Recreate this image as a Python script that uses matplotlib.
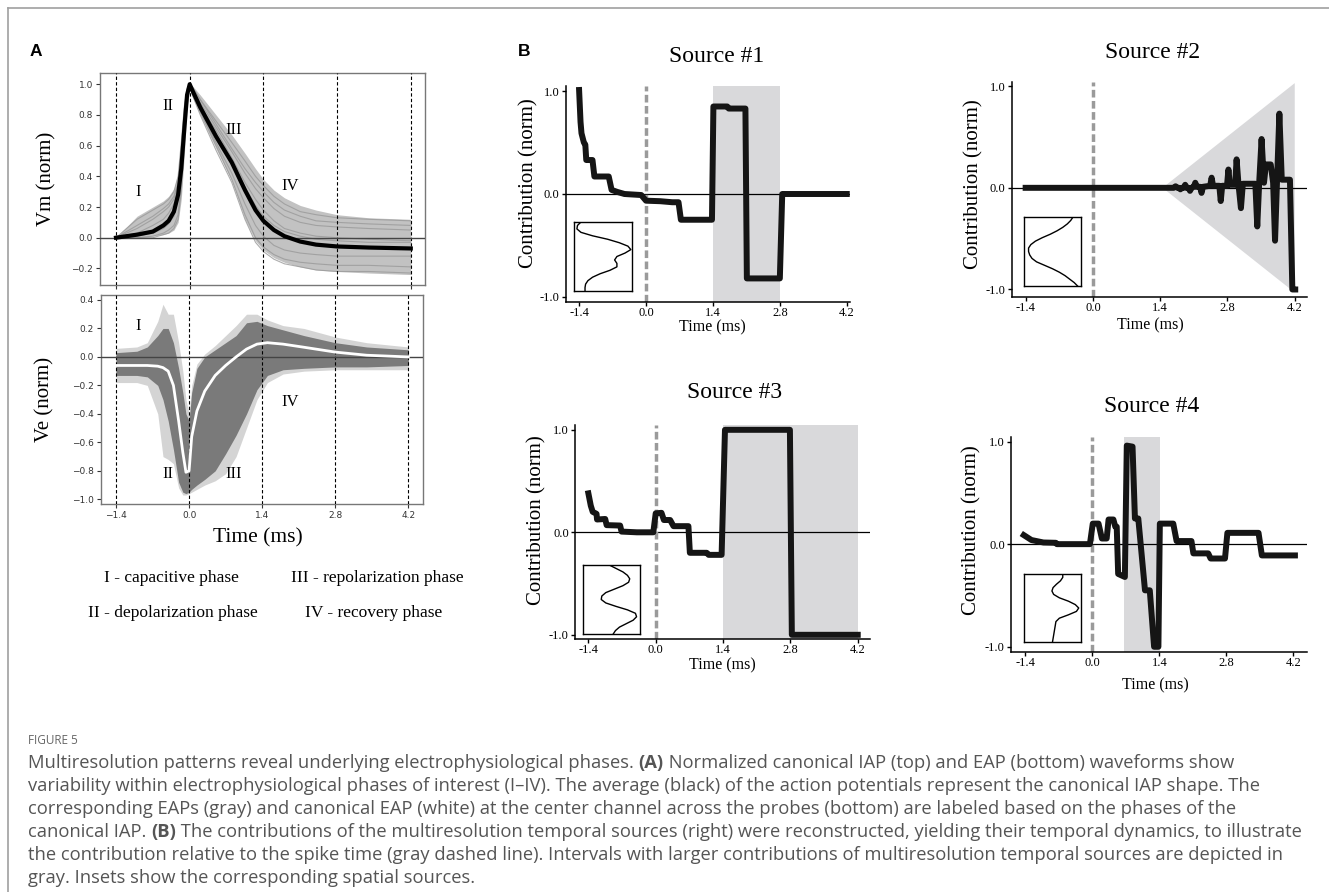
import matplotlib
matplotlib.use("Agg")
import matplotlib.pyplot as plt
from matplotlib.lines import Line2D

W, H = 1329, 892
SERIF = "Liberation Serif"
SHADE = "#d9d9db"

# ---------------- panel A data ----------------
phase_ticks = [-1.4, 0.0, 1.4, 2.8, 4.2]

iap_t = [-1.4, -1.0, -0.7, -0.5, -0.4, -0.3, -0.22, -0.16, -0.1, -0.05, 0.0, 0.05, 0.2,
         0.5, 0.8, 1.05, 1.25, 1.4, 1.6, 1.8, 2.1, 2.4, 2.8, 3.4, 4.2]
iap_mean = [0.0, 0.02, 0.04, 0.08, 0.11, 0.17, 0.28, 0.45, 0.72, 0.93, 1.0, 0.96, 0.85,
            0.66, 0.49, 0.31, 0.18, 0.11, 0.05, 0.01, -0.025, -0.045, -0.057, -0.064, -0.07]
iap_hi = [0.0, 0.14, 0.2, 0.24, 0.27, 0.32, 0.42, 0.62, 0.87, 0.98, 1.0, 0.99, 0.93,
          0.8, 0.67, 0.55, 0.45, 0.38, 0.31, 0.26, 0.21, 0.18, 0.15, 0.13, 0.12]
iap_lo = [0.0, 0.0, 0.01, 0.02, 0.03, 0.05, 0.1, 0.25, 0.55, 0.85, 0.96, 0.92, 0.8,
          0.58, 0.37, 0.12, -0.02, -0.08, -0.13, -0.16, -0.19, -0.21, -0.22, -0.23, -0.24]
iap_traces = [
    [0.0, 0.12, 0.18, 0.22, 0.25, 0.3, 0.4, 0.62, 0.86, 0.97, 1.0, 0.98, 0.9, 0.76, 0.62, 0.5, 0.4, 0.34, 0.27, 0.22, 0.17, 0.15, 0.13, 0.12, 0.11],
    [0.0, 0.06, 0.12, 0.17, 0.2, 0.25, 0.35, 0.55, 0.8, 0.95, 1.0, 0.97, 0.88, 0.72, 0.56, 0.42, 0.32, 0.26, 0.19, 0.14, 0.1, 0.08, 0.07, 0.06, 0.05],
    [0.0, 0.03, 0.08, 0.12, 0.16, 0.22, 0.32, 0.52, 0.8, 0.95, 1.0, 0.96, 0.86, 0.68, 0.5, 0.33, 0.21, 0.14, 0.08, 0.04, 0.01, -0.01, -0.02, -0.03, -0.03],
    [0.0, 0.01, 0.03, 0.06, 0.09, 0.14, 0.25, 0.45, 0.75, 0.94, 1.0, 0.95, 0.83, 0.62, 0.42, 0.22, 0.08, 0.01, -0.05, -0.08, -0.1, -0.11, -0.12, -0.12, -0.12],
    [0.0, 0.0, 0.01, 0.03, 0.05, 0.08, 0.15, 0.35, 0.68, 0.92, 1.0, 0.94, 0.82, 0.6, 0.38, 0.15, 0.0, -0.06, -0.11, -0.14, -0.16, -0.17, -0.18, -0.18, -0.19],
    [0.0, 0.0, 0.0, 0.02, 0.03, 0.06, 0.12, 0.3, 0.62, 0.9, 0.99, 0.93, 0.8, 0.57, 0.36, 0.12, -0.03, -0.09, -0.14, -0.17, -0.19, -0.21, -0.22, -0.22, -0.23],
    [0.0, 0.08, 0.14, 0.19, 0.22, 0.27, 0.36, 0.58, 0.84, 0.96, 1.0, 0.98, 0.9, 0.74, 0.58, 0.45, 0.36, 0.3, 0.23, 0.18, 0.14, 0.11, 0.1, 0.09, 0.08],
    [0.0, 0.02, 0.05, 0.09, 0.12, 0.18, 0.28, 0.48, 0.78, 0.94, 1.0, 0.96, 0.86, 0.7, 0.52, 0.36, 0.25, 0.18, 0.11, 0.06, 0.03, 0.01, 0.0, -0.01, -0.02],
]

eap_t = [-1.4, -1.0, -0.8, -0.6, -0.5, -0.4, -0.3, -0.2, -0.12, -0.06, 0.0, 0.05, 0.15,
         0.3, 0.5, 0.7, 0.9, 1.1, 1.3, 1.5, 1.8, 2.2, 2.8, 3.4, 4.2]
eap_mean = [-0.06, -0.06, -0.06, -0.065, -0.075, -0.1, -0.2, -0.45, -0.67, -0.81, -0.8, -0.56, -0.38,
            -0.24, -0.13, -0.06, 0.0, 0.055, 0.09, 0.1, 0.09, 0.068, 0.034, 0.012, 0.0]
eap_hi = [0.03, 0.04, 0.07, 0.15, 0.2, 0.2, 0.1, -0.08, -0.25, -0.4, -0.45, -0.25, -0.08,
          0.0, 0.05, 0.1, 0.15, 0.24, 0.25, 0.22, 0.19, 0.15, 0.1, 0.07, 0.05]
eap_lo = [-0.13, -0.13, -0.14, -0.2, -0.3, -0.45, -0.65, -0.88, -0.95, -0.96, -0.95, -0.93, -0.9,
          -0.86, -0.8, -0.68, -0.55, -0.4, -0.23, -0.13, -0.09, -0.08, -0.07, -0.07, -0.06]
eap_hi_outer = [0.06, 0.07, 0.1, 0.25, 0.37, 0.3, 0.3, 0.1, -0.1, -0.3, -0.4, -0.2, -0.05,
                0.02, 0.08, 0.15, 0.22, 0.3, 0.3, 0.26, 0.22, 0.2, 0.14, 0.1, 0.07]
eap_lo_outer = [-0.18, -0.18, -0.2, -0.4, -0.7, -0.72, -0.75, -0.92, -0.97, -0.97, -0.96, -0.95, -0.93,
                -0.9, -0.87, -0.82, -0.7, -0.5, -0.3, -0.18, -0.12, -0.1, -0.09, -0.09, -0.09]

phase_names = ["I", "II", "III", "IV"]

# ---------------- panel B data ----------------
s1_t = [-1.4, -1.37, -1.35, -1.3, -1.27, -1.25, -1.12, -1.08, -0.78, -0.72, -0.6, -0.45, -0.1,
        0.0, 0.3, 0.55, 0.68, 0.73, 1.38, 1.41, 1.7, 1.73, 2.08, 2.11, 2.8, 2.85, 4.2]
s1_v = [1.01, 0.7, 0.59, 0.5, 0.48, 0.33, 0.33, 0.17, 0.17, 0.04, 0.02, 0.0, -0.01,
        -0.065, -0.07, -0.08, -0.08, -0.25, -0.25, 0.85, 0.85, 0.83, 0.83, -0.82, -0.82, 0.0, 0.0]

s2_t = [-1.4, -0.8, -0.2, 0.4, 1.0, 1.5, 1.68, 1.72, 1.76, 1.79, 1.82, 1.85, 1.89, 1.92, 1.95,
        1.99, 2.02, 2.05, 2.1, 2.13, 2.16, 2.23, 2.26, 2.29, 2.44, 2.47, 2.5, 2.63, 2.66, 2.69,
        2.79, 2.82, 2.85, 2.96, 2.99, 3.03, 3.08, 3.12, 3.38, 3.42, 3.46, 3.51, 3.56, 3.6, 3.7,
        3.75, 3.79, 3.83, 3.88, 3.93, 4.1, 4.15, 4.21]
s2_v = [0.0, 0.0, 0.0, 0.0, 0.0, 0.0, 0.0, 0.015, 0.0, 0.0, -0.015, 0.0, 0.0, 0.03, 0.0,
        0.0, -0.03, 0.0, 0.01, 0.05, 0.01, 0.01, -0.05, 0.01, 0.02, 0.1, 0.02, 0.02, -0.13, 0.02,
        0.02, 0.18, 0.03, 0.03, 0.28, 0.03, -0.2, 0.04, 0.04, -0.38, 0.05, 0.48, 0.05, 0.23, 0.23,
        0.05, -0.52, 0.05, 0.73, 0.08, 0.08, -1.0, -1.0]
s2_shade_t = [1.45, 4.2, 4.2]
s2_shade_v = [0.0, 1.03, -1.03]

s3_t = [-1.4, -1.35, -1.31, -1.23, -1.22, -1.05, -1.02, -0.74, -0.71, -0.39, -0.05, 0.0, 0.12,
        0.17, 0.3, 0.37, 0.68, 0.71, 1.06, 1.1, 1.37, 1.44, 2.79, 2.83, 4.2]
s3_v = [0.38, 0.26, 0.2, 0.18, 0.125, 0.13, 0.07, 0.066, 0.007, 0.0, 0.0, 0.185, 0.19,
        0.12, 0.12, 0.06, 0.06, -0.2, -0.2, -0.22, -0.22, 1.0, 1.0, -1.0, -1.0]

s4_t = [-1.43, -1.27, -1.02, -0.76, -0.74, -0.05, 0.01, 0.13, 0.2, 0.3, 0.34, 0.44, 0.48, 0.51,
        0.54, 0.68, 0.72, 0.84, 0.89, 0.96, 1.1, 1.2, 1.29, 1.38, 1.41, 1.69, 1.76, 2.07, 2.11,
        2.42, 2.47, 2.77, 2.82, 3.47, 3.54, 4.23]
s4_v = [0.088, 0.04, 0.016, 0.013, 0.0, 0.0, 0.2, 0.2, 0.055, 0.055, 0.24, 0.24, 0.17, 0.17,
        -0.29, -0.32, 0.96, 0.95, 0.25, 0.25, -0.45, -0.45, -1.0, -1.0, 0.2, 0.2, 0.03, 0.03, -0.09,
        -0.09, -0.14, -0.14, 0.11, 0.11, -0.11, -0.11]

shade_spans = {1: (1.4, 2.8), 3: (1.4, 4.2), 4: (0.66, 1.41)}

# spatial sources (insets): horizontal position along depth
inset_depth = [0.0, 0.05, 0.1, 0.15, 0.2, 0.25, 0.3, 0.35, 0.4, 0.45, 0.5, 0.55, 0.6,
               0.65, 0.7, 0.75, 0.8, 0.85, 0.9, 0.95, 1.0]
inset1 = [0.12, 0.06, 0.05, 0.12, 0.32, 0.58, 0.78, 0.93, 0.98, 0.88, 0.74, 0.7, 0.74,
          0.74, 0.62, 0.45, 0.32, 0.24, 0.2, 0.19, 0.19]
inset2 = [0.86, 0.82, 0.76, 0.68, 0.58, 0.46, 0.32, 0.2, 0.12, 0.08, 0.08, 0.1, 0.14,
          0.22, 0.36, 0.5, 0.62, 0.72, 0.8, 0.88, 0.94]
inset3 = [0.46, 0.58, 0.7, 0.78, 0.82, 0.8, 0.7, 0.55, 0.4, 0.33, 0.32, 0.4, 0.58,
          0.78, 0.92, 0.94, 0.88, 0.76, 0.64, 0.57, 0.53]
inset4 = [0.68, 0.68, 0.64, 0.57, 0.51, 0.49, 0.52, 0.62, 0.78, 0.9, 0.96, 0.92, 0.78,
          0.62, 0.56, 0.55, 0.54, 0.53, 0.52, 0.51, 0.5]

caption_lines = [
    ["Multiresolution patterns reveal underlying electrophysiological phases. ", "(A)",
     " Normalized canonical IAP (top) and EAP (bottom) waveforms show"],
    ["variability within electrophysiological phases of interest (I\u2013IV). The average (black) "
     "of the action potentials represent the canonical IAP shape. The"],
    ["corresponding EAPs (gray) and canonical EAP (white) at the center channel across the "
     "probes (bottom) are labeled based on the phases of the"],
    ["canonical IAP. ", "(B)", " The contributions of the multiresolution temporal sources (right) "
     "were reconstructed, yielding their temporal dynamics, to illustrate"],
    ["the contribution relative to the spike time (gray dashed line). Intervals with larger "
     "contributions of multiresolution temporal sources are depicted in"],
    ["gray. Insets show the corresponding spatial sources."],
]

fig = plt.figure(figsize=(W / 100, H / 100), dpi=100)


def px_axes(left, top, right, bottom):
    return fig.add_axes([left / W, 1 - bottom / H, (right - left) / W, (bottom - top) / H])


def ftext(x, y, s, **kw):
    return fig.text(x / W, 1 - y / H, s, **kw)


def style_a(ax):
    for s in ax.spines.values():
        s.set_color("#777777")
        s.set_linewidth(1)
    ax.tick_params(labelsize=6.5, colors="#333333", length=3, width=0.8, pad=2)
    for x in phase_ticks:
        ax.axvline(x, color="black", lw=0.8, ls=(0, (3, 2)), zorder=5)
    ax.axhline(0, color="#444444", lw=1, zorder=5)
    ax.set_xticks(phase_ticks)


# ---- A top: intracellular
ax = px_axes(100, 73, 425, 285)
ax.fill_between(iap_t, iap_lo, iap_hi, color="#c2c2c2", lw=0)
for tr in iap_traces:
    ax.plot(iap_t, tr, color="#999999", lw=0.8, alpha=0.8)
ax.plot(iap_t, iap_mean, color="black", lw=3, zorder=6)
style_a(ax)
ax.set_xticklabels([])
ax.set_yticks([-0.2, 0.0, 0.2, 0.4, 0.6, 0.8, 1.0])
ax.set_xlim(-1.704, 4.47)
ax.set_ylim(-0.308, 1.073)
ax.set_ylabel("Vm (norm)", fontfamily=SERIF, fontsize=15)
ax.yaxis.set_label_coords((56 - 100) / 325, 0.5)
for name, (x, y) in zip(phase_names, [(-0.98, 0.30), (-0.42, 0.86), (0.84, 0.70), (1.91, 0.34)]):
    ax.text(x, y, name, fontfamily=SERIF, fontsize=12, ha="center", va="center")

# ---- A bottom: extracellular
ax = px_axes(101, 295, 423, 504)
ax.fill_between(eap_t, eap_lo_outer, eap_hi_outer, color="#d4d4d4", lw=0)
ax.fill_between(eap_t, eap_lo, eap_hi, color="#7a7a7a", lw=0)
ax.plot(eap_t, eap_mean, color="white", lw=2, zorder=6)
style_a(ax)
ax.set_yticks([-1.0, -0.8, -0.6, -0.4, -0.2, 0.0, 0.2, 0.4])
ax.set_xlim(-1.687, 4.48)
ax.set_ylim(-1.033, 0.435)
ax.set_ylabel("Ve (norm)", fontfamily=SERIF, fontsize=15)
ax.yaxis.set_label_coords((54 - 101) / 322, 0.5)
for name, (x, y) in zip(phase_names, [(-0.98, 0.22), (-0.41, -0.82), (0.86, -0.82), (1.93, -0.32)]):
    ax.text(x, y, name, fontfamily=SERIF, fontsize=12, ha="center", va="center")

ftext(258, 538, "Time (ms)", fontfamily=SERIF, fontsize=15.5, ha="center", va="center")
ftext(171, 578, "I - capacitive phase", fontfamily=SERIF, fontsize=12.5, ha="center", va="center")
ftext(377, 578, "III - repolarization phase", fontfamily=SERIF, fontsize=12.5, ha="center", va="center")
ftext(173, 613, "II - depolarization phase", fontfamily=SERIF, fontsize=12.5, ha="center", va="center")
ftext(374, 613, "IV - recovery phase", fontfamily=SERIF, fontsize=12.5, ha="center", va="center")


# ---- B: temporal sources
def source_panel(box, xlim, ylim, t, v, inset_box, inset_x, title, title_xy, xlab_xy, ylab_px, ylab_frac, span=None, tri=None):
    ax = px_axes(*box)
    if span is not None:
        ax.axvspan(span[0], span[1], color=SHADE, lw=0, zorder=0)
    if tri is not None:
        ax.fill(tri[0], tri[1], color=SHADE, lw=0, zorder=0)
    ax.axhline(0, color="black", lw=0.9, zorder=1)
    ax.axvline(0, color="#9a9a9a", lw=2.5, dashes=(2.2, 1.0), zorder=2)
    ax.plot(t, v, color="#151515", lw=4.3, zorder=3)
    ax.set_xlim(*xlim)
    ax.set_ylim(*ylim)
    for side in ["top", "right"]:
        ax.spines[side].set_visible(False)
    for side in ["left", "bottom"]:
        ax.spines[side].set_linewidth(1.1)
    ax.set_xticks(phase_ticks)
    ax.set_xticklabels(["-1.4", "0.0", "1.4", "2.8", "4.2"])
    ax.set_yticks([-1.0, 0.0, 1.0])
    ax.set_yticklabels(["-1.0", "0.0", "1.0"])
    ax.tick_params(length=3, width=1, pad=1.5, labelsize=9)
    ax.tick_params(axis="x", pad=0.8)
    for lab in ax.get_xticklabels() + ax.get_yticklabels():
        lab.set_fontfamily(SERIF)
    ax.set_ylabel("Contribution (norm)", fontfamily=SERIF, fontsize=15)
    ax.yaxis.set_label_coords((ylab_px - box[0]) / (box[2] - box[0]), ylab_frac)
    ftext(title_xy[0], title_xy[1], title, fontfamily=SERIF, fontsize=17, ha="center", va="center")
    ftext(xlab_xy[0], xlab_xy[1], "Time (ms)", fontfamily=SERIF, fontsize=11.5, ha="center", va="center")

    ins = px_axes(*inset_box)
    ins.plot(inset_x, inset_depth, color="black", lw=1)
    ins.set_xlim(0, 1)
    ins.set_ylim(1.0, 0.0)
    ins.set_xticks([])
    ins.set_yticks([])
    for s in ins.spines.values():
        s.set_linewidth(1)
    ins.set_facecolor("white")
    ins.set_zorder(5)


source_panel((566, 86, 850, 302), (-1.674, 4.268), (-1.049, 1.049), s1_t, s1_v,
             (574, 222, 632, 291), inset1, "Source #1", (717, 57), (712, 327), 538, 0.55,
             span=shade_spans[1])
source_panel((1012, 82, 1307, 297), (-1.684, 4.455), (-1.074, 1.041), s2_t, s2_v,
             (1024, 217, 1081, 286), inset2, "Source #2", (1153, 53), (1150, 325), 983, 0.525,
             tri=(s2_shade_t, s2_shade_v))
source_panel((575, 425, 870, 639), (-1.678, 4.455), (-1.041, 1.047), s3_t, s3_v,
             (583, 565, 640, 634), inset3, "Source #3", (735, 393), (722, 665), 546, 0.556,
             span=shade_spans[3])
source_panel((1011, 437, 1307, 652), (-1.697, 4.482), (-1.051, 1.044), s4_t, s4_v,
             (1024, 574, 1081, 642), inset4, "Source #4", (1152, 406), (1155, 685), 981, 0.567,
             span=shade_spans[4])

# panel letters
ftext(30, 52, "A", fontfamily="Liberation Sans", fontweight="bold", fontsize=12.5, va="center")
ftext(518, 52, "B", fontfamily="Liberation Sans", fontweight="bold", fontsize=12.5, va="center")

# outer frame lines
fig.add_artist(Line2D([8 / W, 1], [1 - 8 / H, 1 - 8 / H], color="#a0a0a0", lw=1.2))
fig.add_artist(Line2D([8 / W, 8 / W], [0, 1 - 8 / H], color="#a0a0a0", lw=1.2))

# caption
CAP = "#555555"
CAP_FONT = "Open Sans"
CAP_X = 28
cap_fs = 10.8
ftext(CAP_X, 740, "FIGURE 5", fontfamily=CAP_FONT, fontsize=8.5, color="#666666", va="center")
renderer = fig.canvas.get_renderer()
probe = ftext(CAP_X, 765, "".join(caption_lines[3]), fontfamily=CAP_FONT, fontsize=cap_fs)
cap_fs = cap_fs * 1278 / probe.get_window_extent(renderer).width
probe.remove()

cap_ax = fig.add_axes([0, 0, 1, 1])
cap_ax.axis("off")
for i, parts in enumerate(caption_lines):
    y = 1 - (765 + 23 * i + 7) / H
    prev = None
    for part in parts:
        bold = part in ("(A)", "(B)")
        kw = dict(fontfamily=CAP_FONT, fontsize=cap_fs, color=CAP, va="bottom", ha="left",
                  fontweight="bold" if bold else "normal")
        if prev is None:
            prev = cap_ax.text(CAP_X / W, y, part, transform=cap_ax.transAxes, **kw)
        else:
            prev = cap_ax.annotate(part, xy=(1, 0), xycoords=prev, **kw)

fig.savefig("out.png", dpi=100)
